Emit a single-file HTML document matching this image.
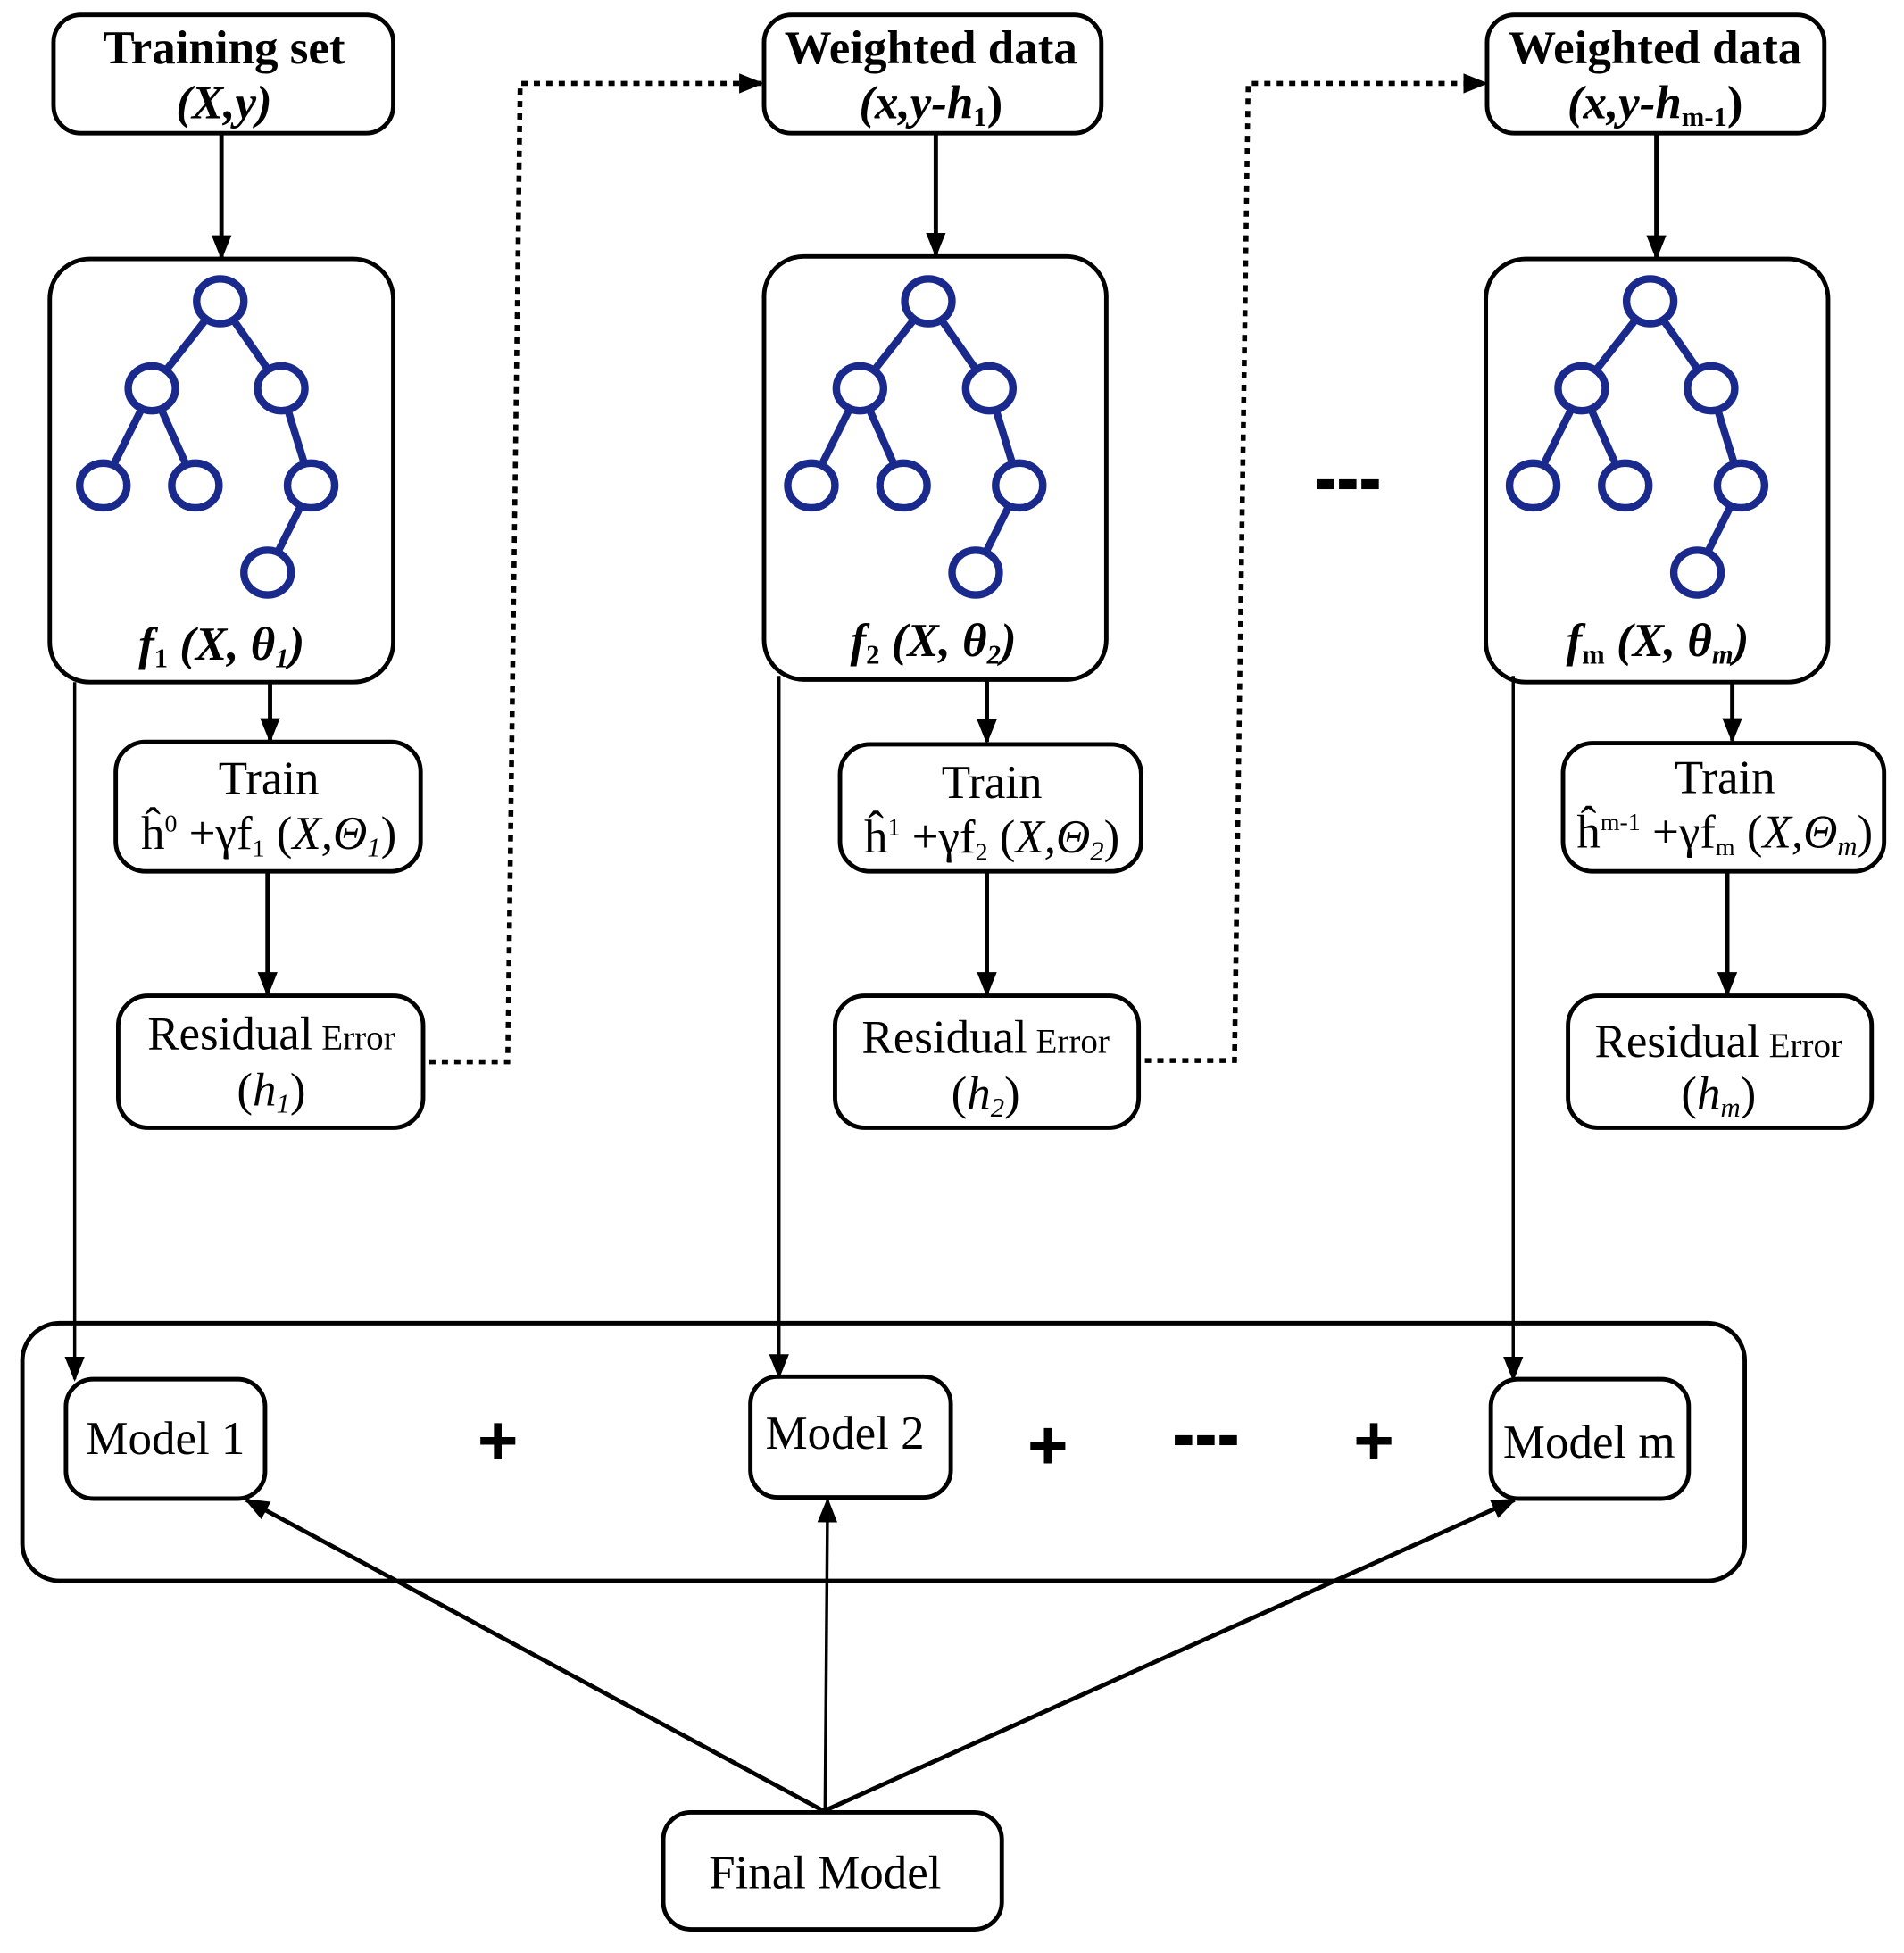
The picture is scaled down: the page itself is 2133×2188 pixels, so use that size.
<!DOCTYPE html>
<html><head><meta charset="utf-8"><style>
html,body{margin:0;padding:0;background:#fff;}
svg{display:block;}
</style></head><body>
<svg width="2133" height="2188" viewBox="0 0 1530 1569" preserveAspectRatio="none" xmlns="http://www.w3.org/2000/svg" font-family="'Liberation Serif', 'Times New Roman', serif">
<defs>
<marker id="b" viewBox="0 0 20 20" refX="18" refY="10" markerWidth="20" markerHeight="20" orient="auto" markerUnits="userSpaceOnUse">
<path d="M0,2 L20,10 L0,18 z" fill="#000"/>
</marker>
<g id="tree" fill="none" stroke="#1a2a8c" stroke-width="6">
<line x1="0" y1="0" x2="-55" y2="70"/><line x1="0" y1="0" x2="49" y2="70"/>
<line x1="-55" y1="70" x2="-94" y2="148"/><line x1="-55" y1="70" x2="-20" y2="148"/>
<line x1="49" y1="70" x2="73" y2="148"/><line x1="73" y1="148" x2="38" y2="218"/>
<ellipse cx="0" cy="0" rx="19" ry="18" fill="#fff"/>
<ellipse cx="-55" cy="70" rx="19" ry="18" fill="#fff"/>
<ellipse cx="49" cy="70" rx="19" ry="18" fill="#fff"/>
<ellipse cx="-94" cy="148" rx="19" ry="18" fill="#fff"/>
<ellipse cx="-20" cy="148" rx="19" ry="18" fill="#fff"/>
<ellipse cx="73" cy="148" rx="19" ry="18" fill="#fff"/>
<ellipse cx="38" cy="218" rx="19" ry="18" fill="#fff"/>
</g>
</defs>
<g fill="none" stroke="#000" stroke-width="3.5">
<rect x="43" y="12" width="273" height="95" rx="22"/>
<rect x="40" y="208" width="276" height="340" rx="32"/>
<rect x="93" y="596" width="245" height="104" rx="24"/>
<rect x="95" y="800" width="245" height="106" rx="24"/>
<rect x="614" y="12" width="271" height="95" rx="22"/>
<rect x="614" y="206" width="275" height="340" rx="32"/>
<rect x="675" y="598" width="242" height="102" rx="24"/>
<rect x="671" y="800" width="244" height="106" rx="24"/>
<rect x="1195" y="12" width="271" height="95" rx="22"/>
<rect x="1194" y="208" width="275" height="340" rx="32"/>
<rect x="1256" y="597" width="258" height="103" rx="24"/>
<rect x="1260" y="800" width="244" height="106" rx="24"/>
<rect x="18" y="1063" width="1384" height="207" rx="30"/>
<rect x="53" y="1108" width="160" height="96" rx="22"/>
<rect x="603" y="1106" width="161" height="97" rx="22"/>
<rect x="1198" y="1108" width="159" height="96" rx="22"/>
<rect x="533" y="1456" width="272" height="94" rx="22"/>
</g>
<use href="#tree" x="177" y="242"/>
<use href="#tree" x="746" y="242"/>
<use href="#tree" x="1326" y="242"/>
<g stroke="#000" stroke-width="3.5" fill="none" marker-end="url(#b)">
<line x1="178" y1="107" x2="178" y2="207"/>
<line x1="217" y1="548" x2="217" y2="595"/>
<line x1="215" y1="700" x2="215" y2="799"/>
<line x1="752" y1="107" x2="752" y2="205"/>
<line x1="793" y1="546" x2="793" y2="596"/>
<line x1="793" y1="700" x2="793" y2="799"/>
<line x1="1331" y1="107" x2="1331" y2="207"/>
<line x1="1392" y1="548" x2="1392" y2="595"/>
<line x1="1388" y1="700" x2="1388" y2="799"/>
<polyline points="345,853 408,853 418,67 612,67" stroke-dasharray="5,5" stroke-width="4"/>
<polyline points="920,852 992,852 1003,67 1194,67" stroke-dasharray="5,5" stroke-width="4"/>
</g>
<g stroke="#000" stroke-width="2.5" fill="none" marker-end="url(#b)">
<line x1="60" y1="548" x2="60" y2="1108"/>
<line x1="626" y1="543" x2="626" y2="1106"/>
<line x1="1216" y1="543" x2="1216" y2="1108"/>
<line x1="663" y1="1455" x2="665" y2="1205"/>
</g>
<g stroke="#000" stroke-width="3.5" fill="none" marker-end="url(#b)">
<line x1="662" y1="1455" x2="198" y2="1205"/>
<line x1="662" y1="1455" x2="1217" y2="1205"/>
</g>
<g text-anchor="middle" font-size="38" fill="#000">
<text x="180" y="51" font-weight="bold">Training set</text>
<text x="180" y="95" font-weight="bold" font-style="italic">(X,y)</text>
<text x="748" y="51" font-weight="bold">Weighted data</text>
<text x="748" y="95" font-weight="bold" font-style="italic">(x,y-h<tspan font-size="22" dy="6" font-style="normal">1</tspan><tspan dy="-6" font-style="normal">)</tspan></text>
<text x="1330" y="51" font-weight="bold">Weighted data</text>
<text x="1330" y="95" font-weight="bold" font-style="italic">(x,y-h<tspan font-size="22" dy="6" font-style="normal">m-1</tspan><tspan dy="-6" font-style="normal">)</tspan></text>
<text x="178" y="530" font-weight="bold" font-style="italic">f<tspan font-size="22" dy="6" font-style="normal">1</tspan><tspan dy="-6"> (X, θ<tspan font-size="22" dy="6">1</tspan><tspan dy="-6">)</tspan></tspan></text>
<text x="750" y="527" font-weight="bold" font-style="italic">f<tspan font-size="22" dy="6" font-style="normal">2</tspan><tspan dy="-6"> (X, θ<tspan font-size="22" dy="6">2</tspan><tspan dy="-6">)</tspan></tspan></text>
<text x="1332" y="527" font-weight="bold" font-style="italic">f<tspan font-size="22" dy="6" font-style="normal">m</tspan><tspan dy="-6"> (X, θ<tspan font-size="22" dy="6">m</tspan><tspan dy="-6">)</tspan></tspan></text>
<text x="216" y="638">Train</text>
<text x="216" y="682">ĥ<tspan font-size="20" dy="-14">0</tspan><tspan dy="14"> +γf</tspan><tspan font-size="20" dy="6">1</tspan><tspan dy="-6"> (</tspan><tspan font-style="italic">X,Θ<tspan font-size="22" dy="6">1</tspan></tspan><tspan dy="-6">)</tspan></text>
<text x="797" y="641">Train</text>
<text x="797" y="685">ĥ<tspan font-size="20" dy="-14">1</tspan><tspan dy="14"> +γf</tspan><tspan font-size="20" dy="6">2</tspan><tspan dy="-6"> (</tspan><tspan font-style="italic">X,Θ<tspan font-size="22" dy="6">2</tspan></tspan><tspan dy="-6">)</tspan></text>
<text x="1386" y="637">Train</text>
<text x="1386" y="681">ĥ<tspan font-size="20" dy="-14">m-1</tspan><tspan dy="14"> +γf</tspan><tspan font-size="20" dy="6">m</tspan><tspan dy="-6"> (</tspan><tspan font-style="italic">X,Θ<tspan font-size="22" dy="6">m</tspan></tspan><tspan dy="-6">)</tspan></text>
<text x="218" y="843">Residual<tspan font-size="28"> Error</tspan></text>
<text x="218" y="888">(<tspan font-style="italic">h<tspan font-size="22" dy="6">1</tspan></tspan><tspan dy="-6">)</tspan></text>
<text x="792" y="846">Residual<tspan font-size="28"> Error</tspan></text>
<text x="792" y="891">(<tspan font-style="italic">h<tspan font-size="22" dy="6">2</tspan></tspan><tspan dy="-6">)</tspan></text>
<text x="1381" y="849">Residual<tspan font-size="28"> Error</tspan></text>
<text x="1381" y="891">(<tspan font-style="italic">h<tspan font-size="22" dy="6">m</tspan></tspan><tspan dy="-6">)</tspan></text>
<text x="133" y="1168">Model 1</text>
<text x="679" y="1164">Model 2</text>
<text x="1277" y="1171">Model m</text>
<text x="663" y="1517">Final Model</text>
<text x="400" y="1176" font-size="56" font-weight="bold" font-family="'Liberation Sans', sans-serif">+</text>
<text x="842" y="1180" font-size="56" font-weight="bold" font-family="'Liberation Sans', sans-serif">+</text>
<text x="1104" y="1176" font-size="56" font-weight="bold" font-family="'Liberation Sans', sans-serif">+</text>
</g>
<g fill="#000">
<rect x="944" y="1153" width="14" height="8"/><rect x="962" y="1153" width="14" height="8"/><rect x="980" y="1153" width="14" height="8"/>
<rect x="1058" y="385" width="14" height="8"/><rect x="1076" y="385" width="14" height="8"/><rect x="1094" y="385" width="14" height="8"/>
</g>
</svg>
</body></html>
